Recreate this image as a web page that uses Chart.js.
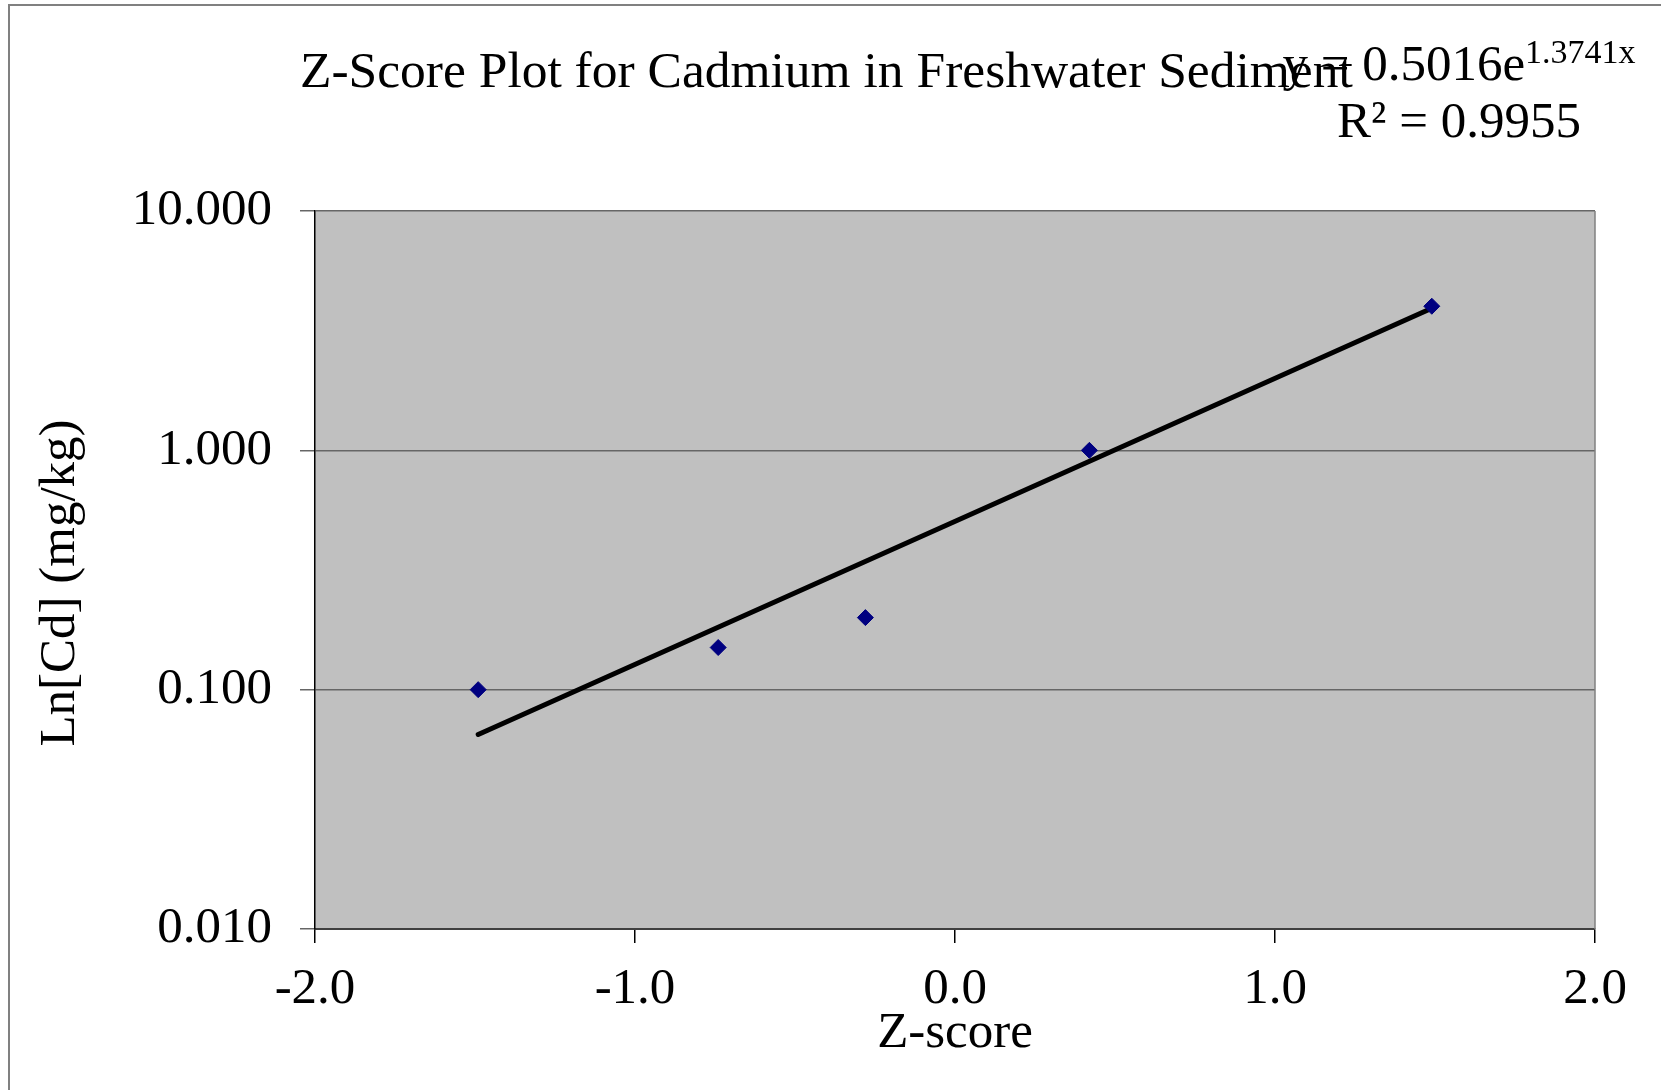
<!DOCTYPE html>
<html>
<head>
<meta charset="utf-8">
<script src="https://cdn.jsdelivr.net/npm/chart.js@4.4.1/dist/chart.umd.min.js"></script>
<style>
  html, body { margin: 0; padding: 0; background: #fff; }
  #wrap { width: 1661px; height: 1090px; position: relative; }
</style>
</head>
<body>
<div id="wrap"><canvas id="grafico"></canvas></div>
<script>
// z-score vs concentration
const zScores = [-1.49, -0.74, -0.28, 0.42, 1.49]
const cadmio = [0.10, 0.15, 0.20, 1.00, 4.00]

// fitted trendline ends (y = 0.5016e^1.3741x)
const trendX = [-1.49, 1.49]
const trendY = [0.065, 3.92]

const yTicks = [0.01, 0.1, 1, 10]
const xTicks = [-2, -1, 0, 1, 2]

const tituloGrafico = 'Z-Score Plot for Cadmium in Freshwater Sediment'
const ecuacion = 'y = 0.5016e'
const exponente = '1.3741x'
const r2 = 'R² = 0.9955'

const SERIF = "'Liberation Serif', 'Times New Roman', serif"
Chart.defaults.font.family = SERIF
Chart.defaults.color = '#000'

const fondoYTextos = {
	id: 'fondoYTextos',
	beforeDraw(chart) {
		const { ctx, chartArea: a } = chart
		ctx.save()
		ctx.fillStyle = '#fff'
		ctx.fillRect(0, 0, chart.width, chart.height)
		ctx.fillStyle = '#c0c0c0'
		ctx.fillRect(a.left, a.top, a.right - a.left, a.bottom - a.top)
		// outer frame (only left and top are visible)
		ctx.strokeStyle = '#808080'
		ctx.lineWidth = 2
		ctx.beginPath()
		ctx.moveTo(9, chart.height)
		ctx.lineTo(9, 5)
		ctx.lineTo(chart.width, 5)
		ctx.stroke()
		ctx.restore()
	},
	beforeDatasetsDraw(chart) {
		const { ctx, chartArea: a } = chart
		ctx.save()
		ctx.strokeStyle = '#808080'
		ctx.lineWidth = 1.5
		ctx.beginPath()
		ctx.moveTo(a.right, a.top)
		ctx.lineTo(a.right, a.bottom)
		ctx.stroke()
		ctx.restore()
	},
	afterDraw(chart) {
		const { ctx } = chart
		ctx.save()
		ctx.fillStyle = '#000'
		ctx.textBaseline = 'alphabetic'

		ctx.font = '51.5px ' + SERIF
		ctx.textAlign = 'left'
		ctx.fillText(tituloGrafico, 300, 87)

		// y axis title
		ctx.save()
		ctx.translate(61, 583)
		ctx.rotate(-Math.PI / 2)
		ctx.font = '51px ' + SERIF
		ctx.textAlign = 'center'
		ctx.textBaseline = 'middle'
		ctx.fillText('Ln[Cd] (mg/kg)', 0, 0)
		ctx.restore()

		// trendline label
		const centro = 1459
		ctx.font = '51px ' + SERIF
		const w1 = ctx.measureText(ecuacion).width
		ctx.font = '34px ' + SERIF
		const w2 = ctx.measureText(exponente).width
		const x0 = centro - (w1 + w2) / 2
		ctx.textAlign = 'left'
		ctx.font = '51px ' + SERIF
		ctx.fillText(ecuacion, x0, 80)
		ctx.font = '34px ' + SERIF
		ctx.fillText(exponente, x0 + w1, 63)
		ctx.font = '51px ' + SERIF
		ctx.textAlign = 'center'
		ctx.fillText(r2, centro, 137)
		ctx.restore()
	}
}

const puntos = zScores.map((x, i) => ({ x, y: cadmio[i] }))
const tendencia = trendX.map((x, i) => ({ x, y: trendY[i] }))

new Chart(document.getElementById('grafico').getContext('2d'), {
	type: 'scatter',
	data: {
		datasets: [{
			label: 'Cd',
			data: puntos,
			pointStyle: 'rectRot',
			pointRadius: 8,
			pointBackgroundColor: '#000080',
			pointBorderColor: '#000080',
			pointBorderWidth: 1,
			order: 1
		}, {
			label: 'Tendencia',
			data: tendencia,
			showLine: true,
			borderColor: '#000',
			borderWidth: 5,
			borderCapStyle: 'round',
			pointRadius: 0,
			order: 2
		}]
	},
	options: {
		responsive: true,
		maintainAspectRatio: false,
		animation: false,
		layout: { padding: { top: 211, right: 66, left: 0, bottom: 0 } },
		plugins: {
			legend: { display: false },
			tooltip: { enabled: false },
			title: { display: false }
		},
		scales: {
			x: {
				type: 'linear',
				min: -2,
				max: 2,
				afterFit: (scale) => { scale.height = 161 },
				afterBuildTicks: (scale) => { scale.ticks = xTicks.map(v => ({ value: v })) },
				ticks: {
					font: { size: 51 },
					padding: 16,
					maxRotation: 0,
					callback: (v) => Number(v).toFixed(1)
				},
				grid: {
					drawOnChartArea: false,
					color: '#000',
					lineWidth: 1.5,
					tickLength: 14
				},
				border: { color: '#404040', width: 2 },
				title: {
					display: true,
					text: 'Z-score',
					font: { size: 51 },
					padding: { top: 0, bottom: 26 }
				}
			},
			y: {
				type: 'logarithmic',
				min: 0.01,
				max: 10,
				afterFit: (scale) => { scale.width = 315 },
				afterBuildTicks: (scale) => { scale.ticks = yTicks.map(v => ({ value: v })) },
				ticks: {
					font: { size: 51 },
					padding: 28,
					callback: (v) => Number(v).toFixed(3)
				},
				grid: {
					color: '#666666',
					lineWidth: 1.5,
					tickLength: 15
				},
				border: { color: '#000', width: 1.5 }
			}
		}
	},
	plugins: [fondoYTextos]
})
</script>
</body>
</html>
